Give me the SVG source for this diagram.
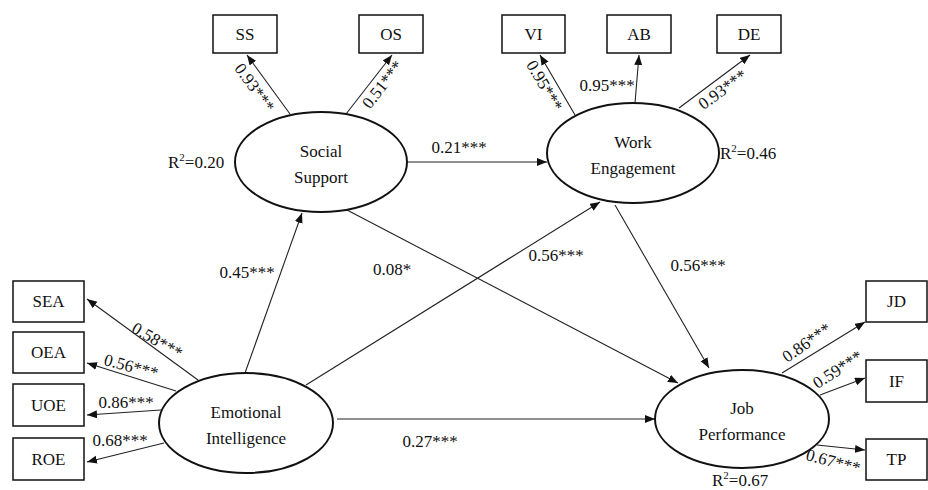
<svg xmlns="http://www.w3.org/2000/svg" width="928" height="490" viewBox="0 0 928 490" font-family="'Liberation Serif', serif">
<style>
text{font-family:'Liberation Serif',serif;fill:#111;}
.lbl{font-size:17px;}
.nt{font-size:17px;text-anchor:middle;}
.box{fill:#fff;stroke:#111;stroke-width:1.5;}
.ell{fill:#fff;stroke:#111;stroke-width:2;}
.c{stroke:#222;stroke-width:1.1;fill:none;marker-end:url(#ah);}
</style>
<defs>
<marker id="ah" markerUnits="userSpaceOnUse" markerWidth="11" markerHeight="9" refX="10" refY="4" orient="auto">
<path d="M0,0 L10,4 L0,8 z" fill="#111"/>
</marker>
</defs>
<rect width="928" height="490" fill="#fff"/>
<g id="connectors">
<line class="c" x1="290" y1="114" x2="247" y2="55"/>
<line class="c" x1="346" y1="114" x2="392" y2="55"/>
<line class="c" x1="575" y1="115" x2="540" y2="55"/>
<line class="c" x1="635" y1="103" x2="639" y2="55"/>
<line class="c" x1="679" y1="108" x2="750" y2="55"/>
<line class="c" x1="408" y1="162" x2="547" y2="162"/>
<line class="c" x1="245" y1="373" x2="302" y2="213"/>
<line class="c" x1="306" y1="385" x2="600" y2="202"/>
<line class="c" x1="347" y1="210" x2="678" y2="383"/>
<line class="c" x1="615" y1="205" x2="709" y2="368"/>
<line class="c" x1="337" y1="419" x2="655" y2="419"/>
<line class="c" x1="198" y1="380" x2="87" y2="299"/>
<line class="c" x1="176" y1="391" x2="87" y2="363"/>
<line class="c" x1="161" y1="410" x2="87" y2="415"/>
<line class="c" x1="164" y1="443" x2="87" y2="462"/>
<line class="c" x1="782" y1="373" x2="865" y2="322"/>
<line class="c" x1="820" y1="395" x2="865" y2="378"/>
<line class="c" x1="817" y1="445" x2="865" y2="450"/>
<text class="lbl" transform="translate(254,88) rotate(54)" text-anchor="middle" dy="5">0.93***</text>
<text class="lbl" transform="translate(383,85) rotate(-52)" text-anchor="middle" dy="5">0.51***</text>
<text class="lbl" transform="translate(544,86) rotate(60)" text-anchor="middle" dy="5">0.95***</text>
<text class="lbl" x="607" y="91" text-anchor="middle">0.95***</text>
<text class="lbl" transform="translate(723,90) rotate(-36)" text-anchor="middle" dy="5">0.93***</text>
<text class="lbl" x="459" y="153" text-anchor="middle">0.21***</text>
<text class="lbl" x="247" y="278" text-anchor="middle">0.45***</text>
<text class="lbl" x="392" y="275" text-anchor="middle">0.08*</text>
<text class="lbl" x="556" y="261" text-anchor="middle">0.56***</text>
<text class="lbl" x="698" y="271" text-anchor="middle">0.56***</text>
<text class="lbl" x="430" y="447" text-anchor="middle">0.27***</text>
<text class="lbl" transform="translate(157,341) rotate(30)" text-anchor="middle" dy="5">0.58***</text>
<text class="lbl" transform="translate(131,367) rotate(15)" text-anchor="middle" dy="5">0.56***</text>
<text class="lbl" x="126" y="408" text-anchor="middle">0.86***</text>
<text class="lbl" x="120" y="446" text-anchor="middle">0.68***</text>
<text class="lbl" transform="translate(807,343) rotate(-35)" text-anchor="middle" dy="5">0.86***</text>
<text class="lbl" transform="translate(838,370) rotate(-33)" text-anchor="middle" dy="5">0.59***</text>
<text class="lbl" transform="translate(833,462) rotate(15)" text-anchor="middle" dy="5">0.67***</text>
</g>
<g id="SS"><rect class="box" x="213" y="15" width="64" height="38"/><text class="nt" x="245" y="40">SS</text></g>
<g id="OS"><rect class="box" x="359" y="15" width="64" height="38"/><text class="nt" x="391" y="40">OS</text></g>
<g id="VI"><rect class="box" x="502" y="15" width="63" height="38"/><text class="nt" x="533.5" y="40">VI</text></g>
<g id="AB"><rect class="box" x="607" y="15" width="64" height="38"/><text class="nt" x="639" y="40">AB</text></g>
<g id="DE"><rect class="box" x="717" y="15" width="64" height="38"/><text class="nt" x="749" y="40">DE</text></g>
<g id="SEA"><rect class="box" x="13" y="281" width="71" height="41"/><text class="nt" x="48.5" y="307">SEA</text></g>
<g id="OEA"><rect class="box" x="13" y="332" width="71" height="41"/><text class="nt" x="48.5" y="358">OEA</text></g>
<g id="UOE"><rect class="box" x="13" y="384" width="71" height="42"/><text class="nt" x="48.5" y="411">UOE</text></g>
<g id="ROE"><rect class="box" x="13" y="438" width="71" height="42"/><text class="nt" x="48.5" y="465">ROE</text></g>
<g id="JD"><rect class="box" x="866" y="281" width="61" height="41"/><text class="nt" x="896.5" y="307">JD</text></g>
<g id="IF"><rect class="box" x="866" y="360" width="61" height="42"/><text class="nt" x="896.5" y="387">IF</text></g>
<g id="TP"><rect class="box" x="866" y="439" width="61" height="41"/><text class="nt" x="896.5" y="465">TP</text></g>
<g id="SocialSupport">
<ellipse class="ell" cx="321" cy="162" rx="86" ry="50"/>
<text class="nt" x="321" y="157">Social</text>
<text class="nt" x="321" y="183">Support</text>
<text class="lbl" x="168" y="168">R<tspan font-size="11" dy="-7">2</tspan><tspan dy="7">=0.20</tspan></text>
</g>
<g id="WorkEngagement">
<ellipse class="ell" cx="633" cy="153" rx="86" ry="50"/>
<text class="nt" x="633" y="148">Work</text>
<text class="nt" x="633" y="174">Engagement</text>
<text class="lbl" x="720" y="159">R<tspan font-size="11" dy="-7">2</tspan><tspan dy="7">=0.46</tspan></text>
</g>
<g id="EmotionalIntelligence">
<ellipse class="ell" cx="246" cy="423" rx="87" ry="50"/>
<text class="nt" x="246" y="418">Emotional</text>
<text class="nt" x="246" y="444">Intelligence</text>
</g>
<g id="JobPerformance">
<ellipse class="ell" cx="742" cy="419" rx="87" ry="49"/>
<text class="nt" x="742" y="414">Job</text>
<text class="nt" x="742" y="440">Performance</text>
<text class="lbl" x="712" y="486">R<tspan font-size="11" dy="-7">2</tspan><tspan dy="7">=0.67</tspan></text>
</g>
</svg>
